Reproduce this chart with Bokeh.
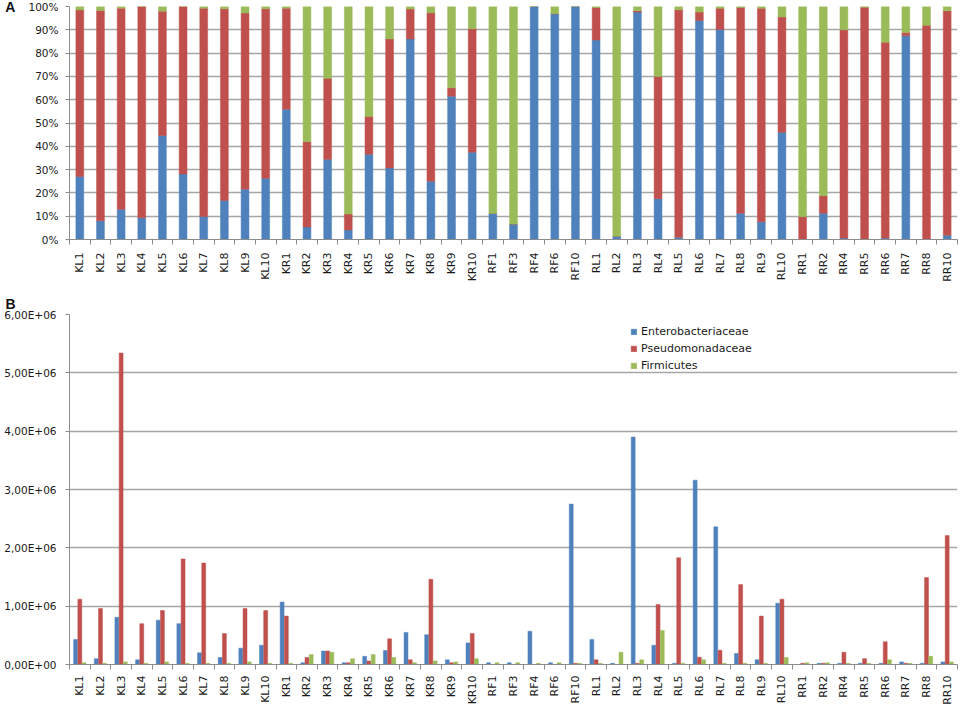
import numpy as np
from bokeh.plotting import figure
from bokeh.layouts import column
from bokeh.models import (FixedTicker, NumeralTickFormatter, Title, Legend, LegendItem,
                          ColumnDataSource, Range1d)
from bokeh.embed import file_html
from bokeh.resources import INLINE

samples = ["KL1", "KL2", "KL3", "KL4", "KL5", "KL6", "KL7", "KL8", "KL9", "KL10",
           "KR1", "KR2", "KR3", "KR4", "KR5", "KR6", "KR7", "KR8", "KR9", "KR10",
           "RF1", "RF3", "RF4", "RF6", "RF10",
           "RL1", "RL2", "RL3", "RL4", "RL5", "RL6", "RL7", "RL8", "RL9", "RL10",
           "RR1", "RR2", "RR4", "RR5", "RR6", "RR7", "RR8", "RR10"]

series_names = ["Enterobacteriaceae", "Pseudomonadaceae", "Firmicutes"]
series_colors = ["#4F81BD", "#C0504D", "#9BBB59"]

# Panel A: relative abundance (%)
pct_entero = [27, 8, 13, 9.3, 44.6, 28.1, 9.9, 16.7, 21.6, 26.3,
              55.9, 5.4, 34.4, 4.1, 36.6, 30.7, 86.1, 25, 61.5, 37.5,
              11.2, 6.6, 100, 96.9, 100,
              85.6, 1.4, 97.6, 17.5, 1, 94, 90.1, 11.3, 7.6, 46,
              0, 11.3, 0.6, 0, 0.6, 87.4, 0, 1.8]
pct_pseudo = [71.5, 90.3, 86.3, 90.7, 53.4, 71.9, 89.4, 82.3, 75.6, 72.7,
              43.4, 36.6, 34.8, 6.8, 16.2, 55.4, 12.8, 72.3, 3.6, 53,
              0, 0, 0, 0, 0,
              14, 0, 0.6, 52.5, 97.6, 3.6, 9.1, 88.3, 91.6, 49.5,
              9.8, 7.5, 89.4, 99.7, 84.1, 1.4, 91.9, 96.4]
pct_firm = [1.5, 1.7, 0.7, 0, 2, 0, 0.7, 1, 2.8, 1,
            0.7, 58, 30.8, 89.1, 47.2, 13.9, 1.1, 2.7, 34.9, 9.5,
            88.8, 93.4, 0, 3.1, 0,
            0.4, 98.6, 1.8, 30, 1.4, 2.4, 0.8, 0.4, 0.8, 4.5,
            90.2, 81.2, 10, 0.3, 15.3, 11.2, 8.1, 1.8]
pct_ticks = [0, 0.1, 0.2, 0.3, 0.4, 0.5, 0.6, 0.7, 0.8, 0.9, 1.0]

# Panel B: absolute abundance
abs_entero = [0.43e6, 0.10e6, 0.81e6, 0.08e6, 0.76e6, 0.70e6, 0.20e6, 0.12e6, 0.28e6, 0.33e6,
              1.07e6, 0.03e6, 0.23e6, 0.03e6, 0.14e6, 0.24e6, 0.55e6, 0.51e6, 0.08e6, 0.37e6,
              0.03e6, 0.03e6, 0.57e6, 0.03e6, 2.75e6,
              0.43e6, 0.02e6, 3.90e6, 0.33e6, 0.02e6, 3.16e6, 2.36e6, 0.19e6, 0.08e6, 1.05e6,
              0.0, 0.02e6, 0.02e6, 0.02e6, 0.02e6, 0.045e6, 0.02e6, 0.045e6]
abs_pseudo = [1.12e6, 0.96e6, 5.34e6, 0.70e6, 0.925e6, 1.81e6, 1.74e6, 0.53e6, 0.96e6, 0.925e6,
              0.83e6, 0.12e6, 0.23e6, 0.03e6, 0.06e6, 0.44e6, 0.08e6, 1.46e6, 0.03e6, 0.53e6,
              0.0, 0.0, 0.0, 0.0, 0.02e6,
              0.08e6, 0.0, 0.02e6, 1.03e6, 1.83e6, 0.125e6, 0.245e6, 1.37e6, 0.83e6, 1.12e6,
              0.02e6, 0.02e6, 0.21e6, 0.10e6, 0.39e6, 0.02e6, 1.49e6, 2.21e6]
abs_firm = [0.03e6, 0.02e6, 0.045e6, 0.02e6, 0.045e6, 0.02e6, 0.02e6, 0.02e6, 0.045e6, 0.02e6,
            0.02e6, 0.17e6, 0.21e6, 0.10e6, 0.17e6, 0.12e6, 0.03e6, 0.06e6, 0.045e6, 0.10e6,
            0.03e6, 0.03e6, 0.02e6, 0.03e6, 0.02e6,
            0.02e6, 0.21e6, 0.08e6, 0.585e6, 0.02e6, 0.08e6, 0.02e6, 0.02e6, 0.02e6, 0.12e6,
            0.03e6, 0.03e6, 0.02e6, 0.02e6, 0.08e6, 0.02e6, 0.14e6, 0.045e6]
abs_ticks = [0, 1e6, 2e6, 3e6, 4e6, 5e6, 6e6]
abs_tick_labels = ["0,00E+00", "1,00E+06", "2,00E+06", "3,00E+06", "4,00E+06", "5,00E+06", "6,00E+06"]

FONT = "DejaVu Sans"
GRID = "#A6A6A6"
AXIS = "#8C8C8C"
TXT = "#1a1a1a"

n = len(samples)
idx = list(range(n))
boundaries = [i - 0.5 for i in range(n + 1)]


def style(p, yticks):
    p.x_range = Range1d(-0.5, n - 0.5)
    p.background_fill_color = "white"
    p.border_fill_color = "white"
    p.outline_line_color = None
    xa = p.xaxis[0]
    xa.ticker = FixedTicker(ticks=idx, minor_ticks=boundaries)
    xa.major_label_overrides = {i: s for i, s in enumerate(samples)}
    xa.major_label_orientation = np.pi / 2
    xa.major_tick_line_color = None
    xa.major_tick_out = 0
    xa.major_tick_in = 0
    xa.minor_tick_line_color = AXIS
    xa.minor_tick_out = 5
    xa.minor_tick_in = 0
    xa.axis_line_color = AXIS
    xa.major_label_standoff = 8
    xa.major_label_text_font = FONT
    xa.major_label_text_font_size = "11px"
    xa.major_label_text_color = TXT
    p.xgrid.grid_line_color = None
    ya = p.yaxis[0]
    ya.ticker = FixedTicker(ticks=yticks)
    ya.minor_tick_line_color = None
    ya.major_tick_out = 4
    ya.major_tick_in = 0
    ya.major_tick_line_color = AXIS
    ya.axis_line_color = AXIS
    ya.major_label_text_font = FONT
    ya.major_label_text_font_size = "10.5px"
    ya.major_label_text_color = TXT
    p.ygrid.grid_line_color = GRID
    p.ygrid.grid_line_width = 1.3


# ---------- Panel A ----------
pa = figure(width=964, height=284, output_backend="svg", toolbar_location=None,
            min_border_left=69, min_border_right=2, min_border_top=6, min_border_bottom=0,
            y_range=Range1d(0, 1))
srcA = ColumnDataSource(dict(x=idx,
                             e=[v / 100 for v in pct_entero],
                             ps=[v / 100 for v in pct_pseudo],
                             f=[v / 100 for v in pct_firm]))
pa.vbar_stack(["e", "ps", "f"], x="x", width=0.38, source=srcA,
              fill_color=series_colors, line_color=series_colors, line_width=0.5)
style(pa, pct_ticks)
ya = pa.yaxis[0]
ya.formatter = NumeralTickFormatter(format="0%")
ya.major_label_standoff = 7
ya.axis_label = "A"
ya.axis_label_orientation = "horizontal"
ya.axis_label_align = "end"
ya.axis_label_standoff = 10
ya.axis_label_text_font = "Liberation Sans"
ya.axis_label_text_font_style = "bold"
ya.axis_label_text_font_size = "14px"
ya.axis_label_text_baseline = "top"
ya.axis_label_text_color = "#111111"

# ---------- Panel B ----------
pb = figure(width=964, height=423, output_backend="svg", toolbar_location=None,
            min_border_left=68, min_border_right=7, min_border_top=30, min_border_bottom=0,
            y_range=Range1d(0, 6e6))
srcB = ColumnDataSource(dict(x=idx, e=abs_entero, ps=abs_pseudo, f=abs_firm))
offs = [-0.205, 0.0, 0.205]
rends = []
for col, off, c in zip(["e", "ps", "f"], offs, series_colors):
    r = pb.vbar(x=[i + off for i in idx], top=srcB.data[col], width=0.19,
                fill_color=c, line_color=c, line_width=0.5)
    rends.append(r)
style(pb, abs_ticks)
pb.xaxis[0].major_label_standoff = 6
pb.yaxis[0].major_label_overrides = {t: s for t, s in zip(abs_ticks, abs_tick_labels)}
pb.yaxis[0].major_label_standoff = 9
pb.add_layout(Title(text="B", align="left", offset=-64, standoff=5,
                    text_font="Liberation Sans", text_font_style="bold",
                    text_font_size="14px", text_color="#111111"), "above")

legend = Legend(items=[LegendItem(label=nm, renderers=[r]) for nm, r in zip(series_names, rends)],
                location=(561, 290), orientation="vertical",
                glyph_width=7, glyph_height=7, label_height=17, label_standoff=4,
                spacing=0, padding=0, margin=0,
                label_text_font=FONT, label_text_font_size="11px",
                label_text_color=TXT, border_line_color=None,
                background_fill_alpha=0)
pb.add_layout(legend)

layout = column(pa, pb, spacing=0)
open("out.html", "w").write(file_html(layout, INLINE))
